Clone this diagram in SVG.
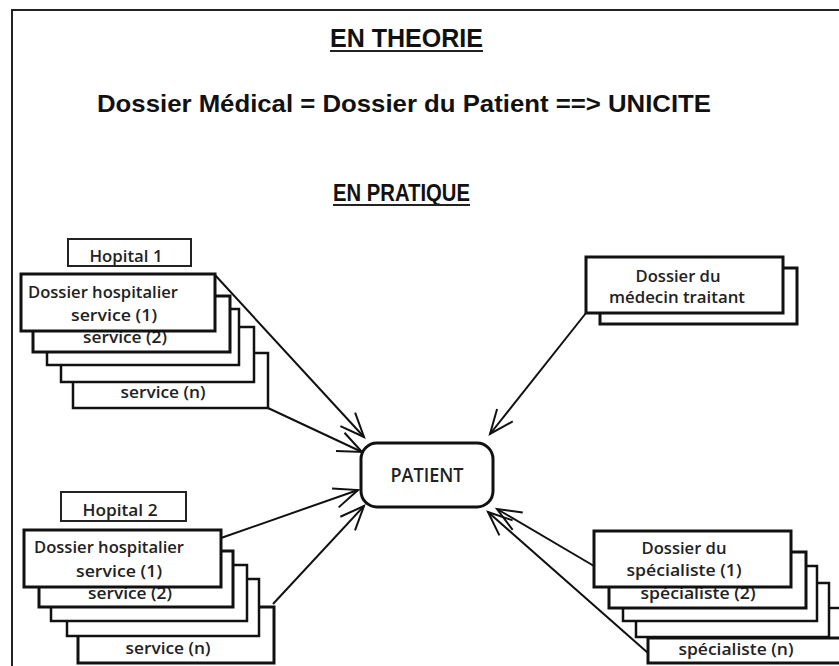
<svg xmlns="http://www.w3.org/2000/svg" width="839" height="666" viewBox="0 0 839 666">
  <style>
    .title { font-family: "Liberation Sans", Arial, sans-serif; font-weight: bold; fill: #111; }
    .lbl { font-family: "Open Sans", "Liberation Sans", sans-serif; font-weight: 600; font-size: 16px; fill: #222; text-anchor: middle; }
    .pat { font-family: "Open Sans", "Liberation Sans", sans-serif; font-weight: 600; font-size: 19px; fill: #222; text-anchor: middle; }
    .card { fill: #fff; stroke: #111; stroke-width: 2.5; }
    .front { fill: #fff; stroke: #111; stroke-width: 3; }
    .tag { fill: #fff; stroke: #222; stroke-width: 2; }
    .link { fill: none; stroke: #111; stroke-width: 2; marker-end: url(#open); }
    .rule { stroke: #222; stroke-width: 2; }
  </style>
  <defs>
    <marker id="open" markerUnits="userSpaceOnUse" markerWidth="30" markerHeight="30" viewBox="-26 -15 30 30" refX="0" refY="0" orient="auto">
      <path d="M -24 -10 L 0 0 L -24 10" fill="none" stroke="#111" stroke-width="2"/>
    </marker>
  </defs>

  <rect width="839" height="666" fill="#fff"/>
  <!-- frame -->
  <path d="M 12 666 L 12 10 L 839 10" fill="none" stroke="#222" stroke-width="2"/>

  <!-- headings -->
  <g id="heading">
    <text class="title" x="330" y="47" font-size="26" textLength="153" lengthAdjust="spacingAndGlyphs">EN THEORIE</text>
    <line class="rule" x1="330" y1="51" x2="483" y2="51"/>
    <text class="title" x="97" y="112" font-size="24" textLength="614" lengthAdjust="spacingAndGlyphs">Dossier Médical = Dossier du Patient ==&gt; UNICITE</text>
    <text class="title" x="333" y="201" font-size="23" textLength="137" lengthAdjust="spacingAndGlyphs">EN PRATIQUE</text>
    <line class="rule" x1="333" y1="205" x2="470" y2="205"/>
  </g>

  <!-- connectors -->
  <g id="connectors">
    <line class="link" x1="215" y1="275" x2="364" y2="437"/>
    <line class="link" x1="268" y1="408" x2="362" y2="452"/>
    <line class="link" x1="221" y1="538" x2="358" y2="490"/>
    <line class="link" x1="273" y1="604" x2="364" y2="506"/>
    <line class="link" x1="586" y1="313" x2="490" y2="434"/>
    <line class="link" x1="594" y1="566" x2="497" y2="509"/>
    <line class="link" x1="648" y1="653" x2="488" y2="512"/>
  </g>

  <!-- Hopital 1 -->
  <g id="hopital1">
    <rect class="tag" x="68" y="239" width="123" height="27"/>
    <text class="lbl" x="126" y="262" textLength="73" lengthAdjust="spacingAndGlyphs">Hopital 1</text>
    <rect class="card" x="73" y="353" width="195" height="55"/>
    <text class="lbl" x="163" y="398" textLength="85" lengthAdjust="spacingAndGlyphs">service (n)</text>
    <rect class="card" x="61" y="327" width="193" height="55"/>
    <rect class="card" x="47" y="309" width="192" height="56"/>
    <rect class="front" x="33" y="296" width="197" height="56"/>
    <text class="lbl" x="125" y="343" textLength="84" lengthAdjust="spacingAndGlyphs">service (2)</text>
    <rect class="front" x="21" y="274" width="194" height="57"/>
    <text class="lbl" x="103" y="298" textLength="150" lengthAdjust="spacingAndGlyphs">Dossier hospitalier</text>
    <text class="lbl" x="114" y="321" textLength="86" lengthAdjust="spacingAndGlyphs">service (1)</text>
  </g>

  <!-- Hopital 2 -->
  <g id="hopital2">
    <rect class="tag" x="61" y="492" width="125" height="29"/>
    <text class="lbl" x="120" y="516" textLength="75" lengthAdjust="spacingAndGlyphs">Hopital 2</text>
    <rect class="front" x="78" y="607" width="196" height="56"/>
    <text class="lbl" x="168" y="654" textLength="85" lengthAdjust="spacingAndGlyphs">service (n)</text>
    <rect class="card" x="67" y="579" width="192" height="57"/>
    <rect class="card" x="51" y="565" width="196" height="56"/>
    <rect class="front" x="39" y="551" width="194" height="56"/>
    <text class="lbl" x="130" y="599" textLength="84" lengthAdjust="spacingAndGlyphs">service (2)</text>
    <rect class="front" x="24" y="530" width="197" height="57"/>
    <text class="lbl" x="109" y="553" textLength="150" lengthAdjust="spacingAndGlyphs">Dossier hospitalier</text>
    <text class="lbl" x="119" y="577" textLength="86" lengthAdjust="spacingAndGlyphs">service (1)</text>
  </g>

  <!-- Medecin traitant -->
  <g id="medecin">
    <rect class="front" x="600" y="268" width="197" height="56"/>
    <rect class="front" x="586" y="257" width="197" height="56"/>
    <text class="lbl" x="678" y="282" textLength="85" lengthAdjust="spacingAndGlyphs">Dossier du</text>
    <text class="lbl" x="677" y="303" textLength="136" lengthAdjust="spacingAndGlyphs">médecin traitant</text>
  </g>

  <!-- Specialiste -->
  <g id="specialiste">
    <line x1="829" y1="608" x2="839" y2="608" stroke="#111" stroke-width="2.5"/>
    <rect class="front" x="648" y="638" width="200" height="25"/>
    <text class="lbl" x="736" y="655" textLength="115" lengthAdjust="spacingAndGlyphs">spécialiste (n)</text>
    <rect class="card" x="636" y="583" width="193" height="54"/>
    <rect class="card" x="623" y="566" width="194" height="55"/>
    <rect class="front" x="609" y="552" width="197" height="56"/>
    <text class="lbl" x="698" y="599" textLength="115" lengthAdjust="spacingAndGlyphs">spécialiste (2)</text>
    <rect class="front" x="594" y="531" width="197" height="56"/>
    <text class="lbl" x="684" y="554" textLength="85" lengthAdjust="spacingAndGlyphs">Dossier du</text>
    <text class="lbl" x="684" y="576" textLength="115" lengthAdjust="spacingAndGlyphs">spécialiste (1)</text>
  </g>

  <!-- Patient -->
  <g id="patient">
    <rect x="361" y="443" width="132" height="64" rx="16" fill="#fff" stroke="#111" stroke-width="3"/>
    <text class="pat" x="427" y="482" textLength="73" lengthAdjust="spacingAndGlyphs">PATIENT</text>
  </g>
</svg>
